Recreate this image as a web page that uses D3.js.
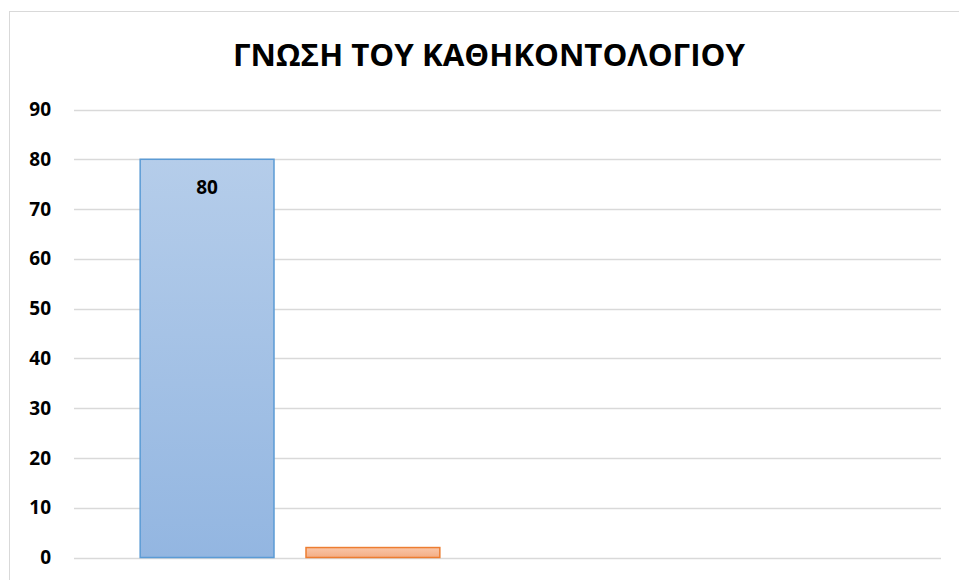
<!DOCTYPE html>
<html lang="el">
<head>
<meta charset="UTF-8">
<title>ΓΝΩΣΗ ΤΟΥ ΚΑΘΗΚΟΝΤΟΛΟΓΙΟΥ</title>
<script src="https://d3js.org/d3.v7.min.js"></script>
<style>
  body { margin: 0; background: #fff; }
  text { font-family: "Open Sans", "DejaVu Sans", sans-serif; font-weight: bold; fill: #000; }
</style>
</head>
<body>
<div id="chart"></div>
<script>
// data
const title = "ΓΝΩΣΗ ΤΟΥ ΚΑΘΗΚΟΝΤΟΛΟΓΙΟΥ";
const categories = ["ΝΑΙ", "ΟΧΙ"];
const values = [80, 2];
const showLabel = [true, false];
const yTicks = [0, 10, 20, 30, 40, 50, 60, 70, 80, 90];

const width = 959, height = 580;
const svg = d3.select("#chart").append("svg")
    .attr("width", width)
    .attr("height", height);

// gradients for the bars
const defs = svg.append("defs");
const grads = [
    { id: "gBlue", top: "#b5cdea", bottom: "#93b6e1", stroke: "#5b9bd5" },
    { id: "gOrange", top: "#f9c6a8", bottom: "#f4ad84", stroke: "#ed7d31" }
];
grads.forEach(g => {
    const lg = defs.append("linearGradient").attr("id", g.id)
        .attr("x1", 0).attr("y1", 0).attr("x2", 0).attr("y2", 1);
    lg.append("stop").attr("offset", "0%").attr("stop-color", g.top);
    lg.append("stop").attr("offset", "100%").attr("stop-color", g.bottom);
});

// chart frame (runs off the right edge like the original)
svg.append("rect")
    .attr("x", 9.5).attr("y", 11.5)
    .attr("width", 980).attr("height", 600)
    .attr("fill", "none")
    .attr("stroke", "#d9d9d9");

const plotLeft = 74, plotRight = 941;
const y = d3.scaleLinear().domain([0, 90]).range([557.5, 109.5]);
const x = d3.scaleBand()
    .domain(categories)
    .range([107, 473])
    .paddingInner(0.193)
    .paddingOuter(0.2);

// gridlines
svg.append("g")
    .selectAll("line")
    .data(yTicks)
    .join("line")
    .attr("x1", plotLeft).attr("x2", plotRight)
    .attr("y1", d => Math.round(y(d)) + 0.5)
    .attr("y2", d => Math.round(y(d)) + 0.5)
    .attr("stroke", "#d9d9d9")
    .attr("stroke-width", 1.5);

// y axis labels
const yAxis = svg.append("g")
    .attr("transform", `translate(${plotLeft},0)`)
    .call(d3.axisLeft(y).tickValues(yTicks).tickSize(0).tickPadding(23));
yAxis.select(".domain").remove();
yAxis.selectAll("text")
    .attr("font-size", 19)
    .attr("font-family", "'Open Sans', sans-serif")
    .attr("font-weight", "bold")
    .attr("fill", "#000");

// bars
svg.append("g")
    .selectAll("rect")
    .data(values)
    .join("rect")
    .attr("x", (d, i) => x(categories[i]))
    .attr("y", d => y(d))
    .attr("width", x.bandwidth())
    .attr("height", d => y(0) - y(d))
    .attr("fill", (d, i) => `url(#${grads[i].id})`)
    .attr("stroke", (d, i) => grads[i].stroke)
    .attr("stroke-width", 1.5);

// data labels
svg.append("g")
    .selectAll("text")
    .data(values.filter((d, i) => showLabel[i]))
    .join("text")
    .attr("x", (d, i) => x(categories[values.indexOf(d)]) + x.bandwidth() / 2)
    .attr("y", d => y(d) + 35)
    .attr("text-anchor", "middle")
    .attr("font-size", 19)
    .text(d => d);

// title
svg.append("text")
    .attr("x", 489)
    .attr("y", 66)
    .attr("text-anchor", "middle")
    .attr("font-size", 31)
    .attr("textLength", 512)
    .attr("lengthAdjust", "spacingAndGlyphs")
    .text(title);
</script>
</body>
</html>
